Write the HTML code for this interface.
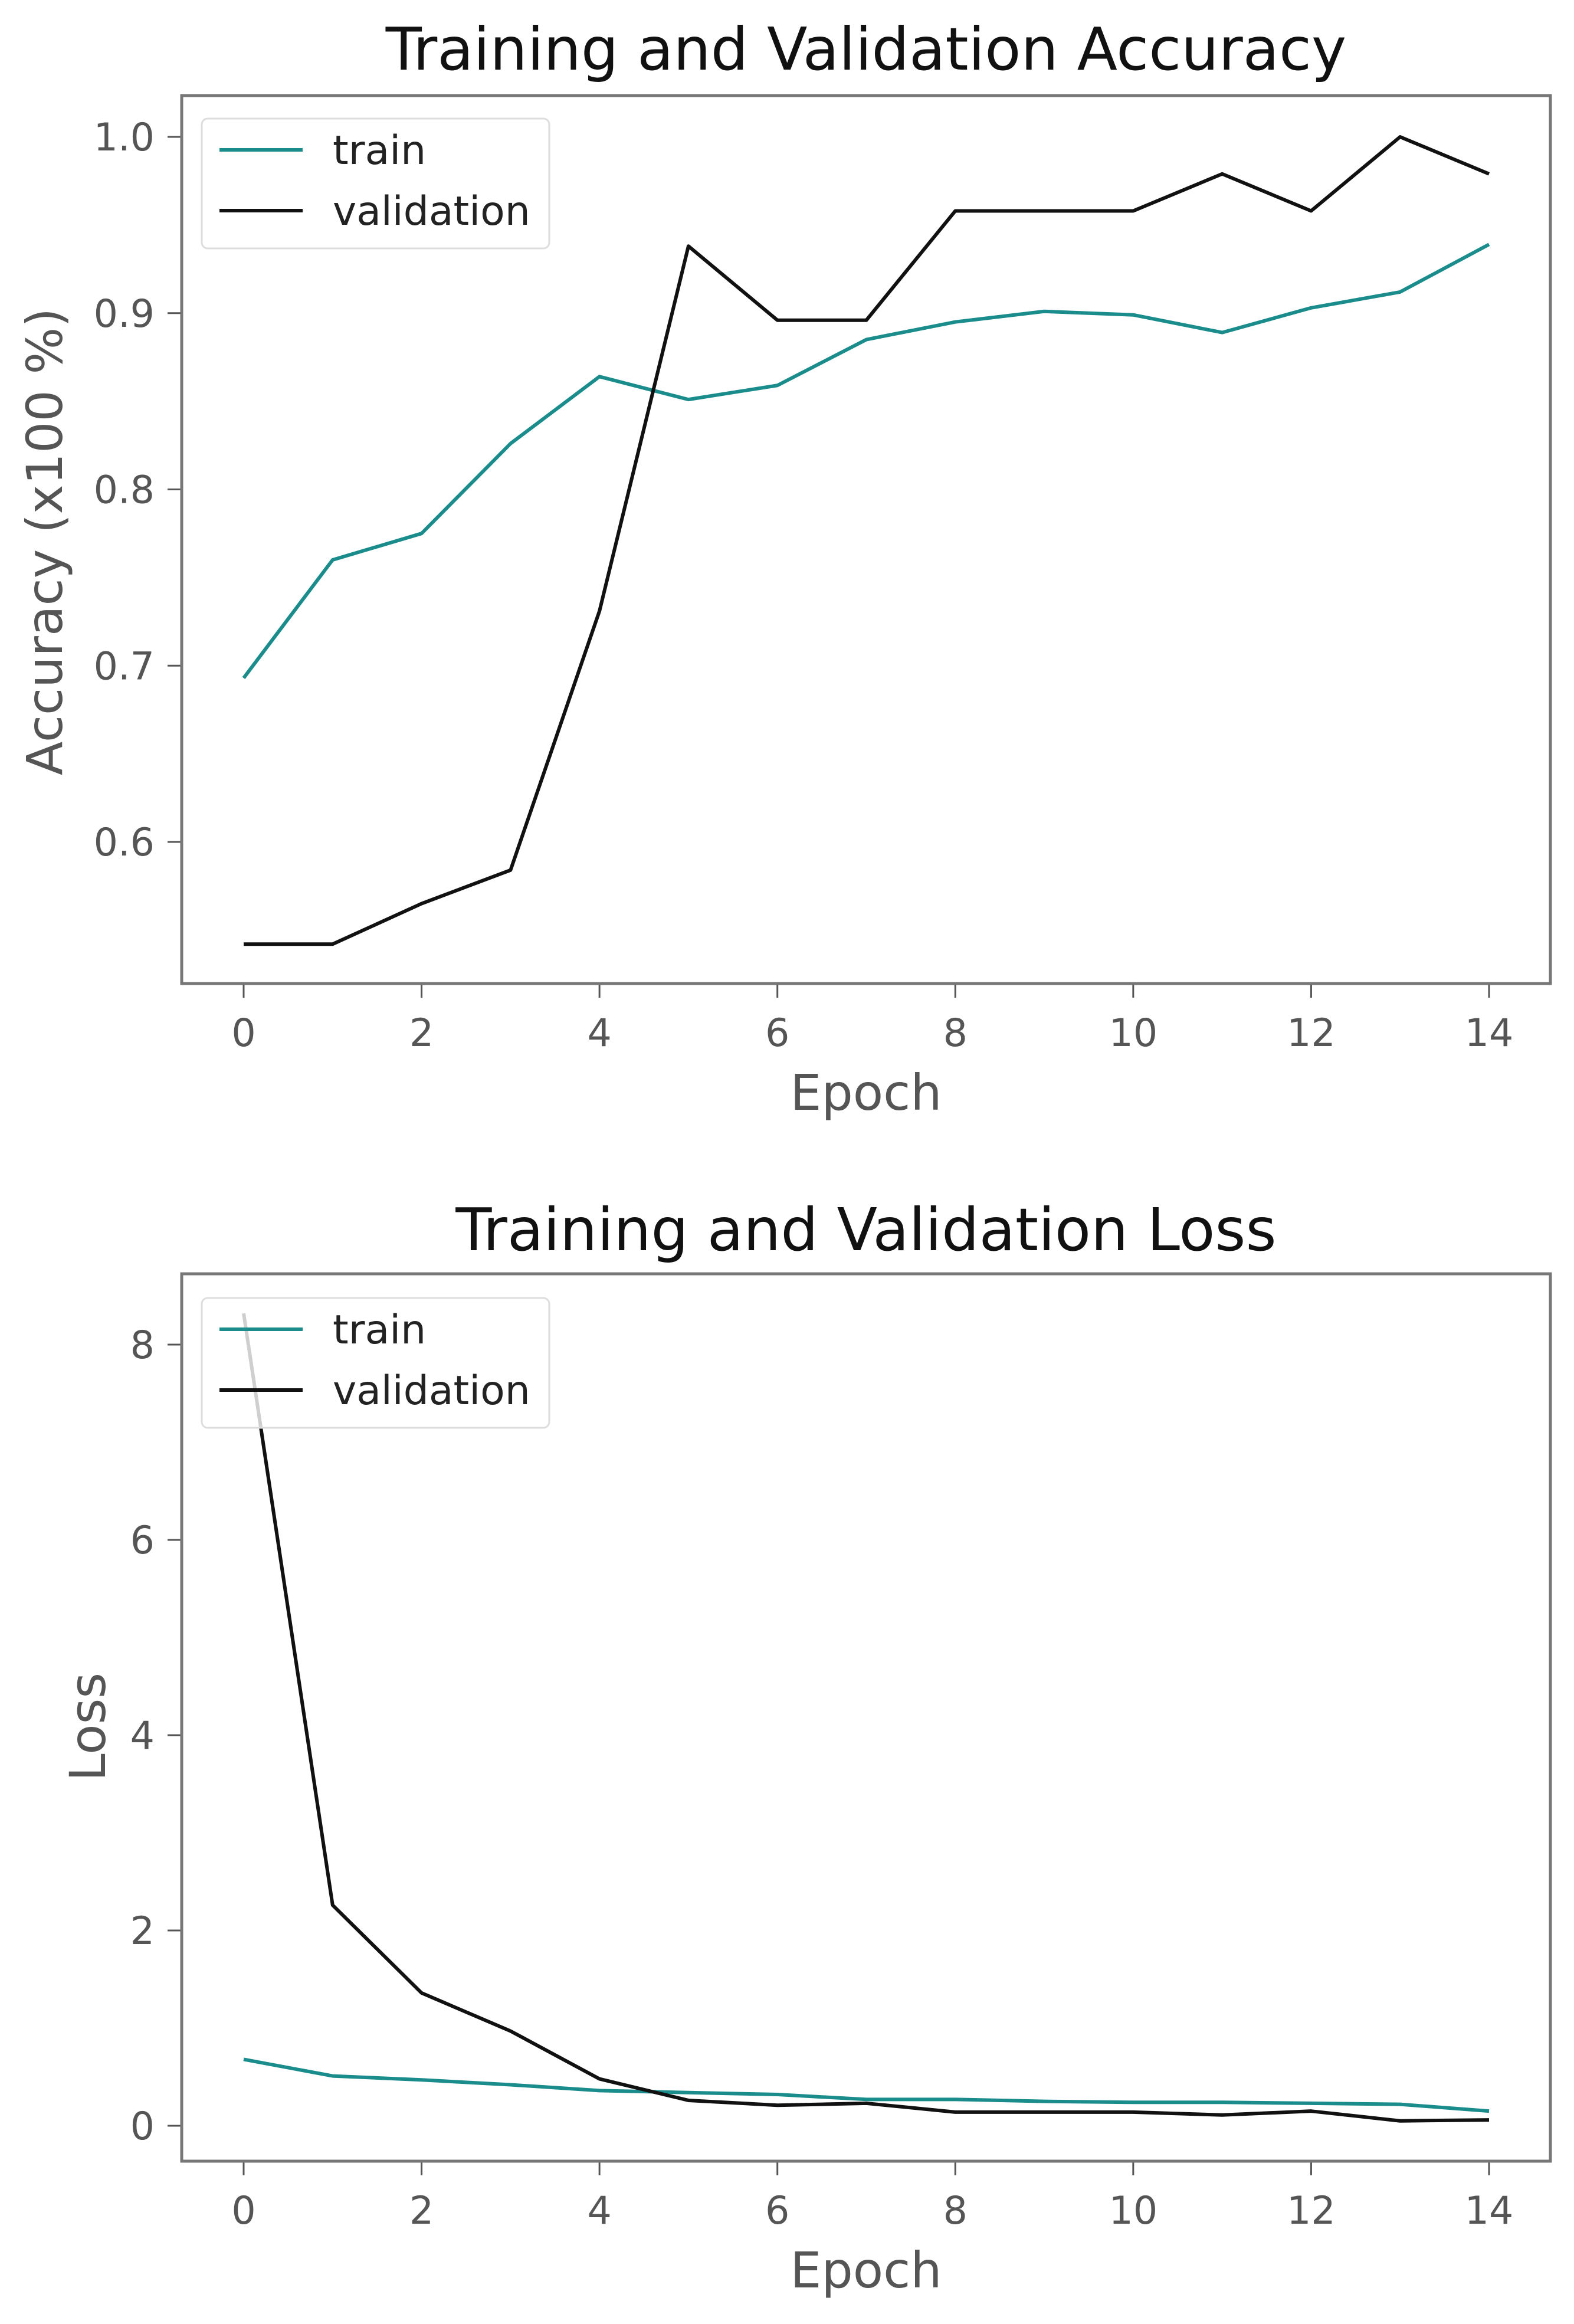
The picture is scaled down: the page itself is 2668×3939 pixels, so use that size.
<!DOCTYPE html>
<html><head><meta charset="utf-8"><style>
html,body{margin:0;padding:0;background:#fff;}
svg{display:block;font-family:"DejaVu Sans","Liberation Sans",sans-serif;}
</style></head><body>
<svg id="fig" width="2668" height="3939" viewBox="0 0 2668 3939" xmlns="http://www.w3.org/2000/svg"></svg>
<script>
const epochs = [0,1,2,3,4,5,6,7,8,9,10,11,12,13,14];
const xTicks = [0,2,4,6,8,10,12,14];
const accTrain = [0.693,0.760,0.775,0.826,0.864,0.851,0.859,0.885,0.895,0.901,0.899,0.889,0.903,0.912,0.939];
const accVal = [0.542,0.542,0.565,0.584,0.731,0.938,0.896,0.896,0.958,0.958,0.958,0.979,0.958,1.0,0.979];
const accTicks = [0.6,0.7,0.8,0.9,1.0];
const accTickLabels = ["0.6","0.7","0.8","0.9","1.0"];
const lossTrain = [0.68,0.51,0.47,0.42,0.36,0.34,0.32,0.27,0.27,0.25,0.24,0.24,0.23,0.22,0.15];
const lossVal = [8.32,2.26,1.36,0.97,0.48,0.26,0.21,0.23,0.14,0.14,0.14,0.11,0.15,0.05,0.06];
const lossTicks = [0,2,4,6,8];
const lossTickLabels = ["0","2","4","6","8"];

const NS="http://www.w3.org/2000/svg";
const svg=document.getElementById('fig');
function mk(tag,attrs,parent){const e=document.createElementNS(NS,tag);for(const k in attrs)e.setAttribute(k,attrs[k]);(parent||svg).appendChild(e);return e;}

function panel(cfg){
  const g=mk('g',{});
  
  
  const L=308,R=2628,T=cfg.top,B=cfg.bottom;
  const xs=v=>413+(v-0)*(2524-413)/14;
  const ys=v=>cfg.y0px+(v-cfg.y0)*(cfg.y1px-cfg.y0px)/(cfg.y1-cfg.y0);
  const t=mk('text',{x:(L+R)/2,y:cfg.titleY,'text-anchor':'middle','font-size':100,fill:'#111'},g);
  t.textContent=cfg.title;
  
  
  xTicks.forEach(v=>{
    const tk=mk('line',{x1:xs(v),x2:xs(v),y1:B,y2:B+24,stroke:'#555','stroke-width':3},g);
    
    
    const tl=mk('text',{x:xs(v),y:B+106,'text-anchor':'middle','font-size':65,fill:'#555'},g);
    tl.textContent=String(v);
    
    
  });
  cfg.ticks.forEach((v,i)=>{
    const tk=mk('line',{x1:L-24,x2:L,y1:ys(v),y2:ys(v),stroke:'#555','stroke-width':3},g);
    
    
    const tl=mk('text',{x:262,y:ys(v)+23,'text-anchor':'end','font-size':65,fill:'#555'},g);
    tl.textContent=cfg.tickLabels[i];
    
    
  });
  const xl=mk('text',{x:(L+R)/2,y:B+214,'text-anchor':'middle','font-size':84,fill:'#555'},g);
  xl.textContent='Epoch';
  
  
  const yl=mk('text',{x:0,y:0,'text-anchor':'middle','font-size':84,fill:'#555',transform:`translate(${cfg.ylabX},${cfg.ylabY}) rotate(-90)`},g);
  yl.textContent=cfg.ylabel;
  
  
  function line(data,color,name){
    const p=mk('polyline',{points:data.map((v,i)=>xs(epochs[i])+','+ys(v)).join(' '),fill:'none',stroke:color,'stroke-width':6,'stroke-linejoin':'round'},g);
    
    
  }
  line(cfg.train,'#1a8c8c','train-line');
  line(cfg.val,'#111','validation-line');
  const fr=mk('rect',{x:L,y:T,width:R-L,height:B-T,fill:'none',stroke:'#777','stroke-width':5},g);
  
  
  const lg=mk('g',{},g);
  
  
  mk('rect',{x:342,y:cfg.legTop,width:589,height:220,rx:10,fill:'rgba(255,255,255,0.8)',stroke:'#ddd','stroke-width':3},lg);
  [['train','#1a8c8c',0],['validation','#111',1]].forEach(([lab,c,i])=>{
    const yy=cfg.legTop+53+i*103;
    const e=mk('g',{},lg);
    
    
    mk('line',{x1:372,x2:513,y1:yy,y2:yy,stroke:c,'stroke-width':6},e);
    const tx=mk('text',{x:564,y:yy+24,'font-size':68,fill:'#222'},e);
    tx.textContent=lab;
  });
}
panel({name:'accuracy-chart',title:'Training and Validation Accuracy',titleY:118,top:162,bottom:1667,
  y0:0.6,y1:1.0,y0px:1427,y1px:232,ticks:accTicks,tickLabels:accTickLabels,
  ylabel:'Accuracy (x100 %)',ylabX:105,ylabY:918,train:accTrain,val:accVal,legTop:201});
panel({name:'loss-chart',title:'Training and Validation Loss',titleY:2119,top:2159,bottom:3663,
  y0:0,y1:8,y0px:3603,y1px:2279,ticks:lossTicks,tickLabels:lossTickLabels,
  ylabel:'Loss',ylabX:178,ylabY:2927,train:lossTrain,val:lossVal,legTop:2200});
</script>
</body></html>
